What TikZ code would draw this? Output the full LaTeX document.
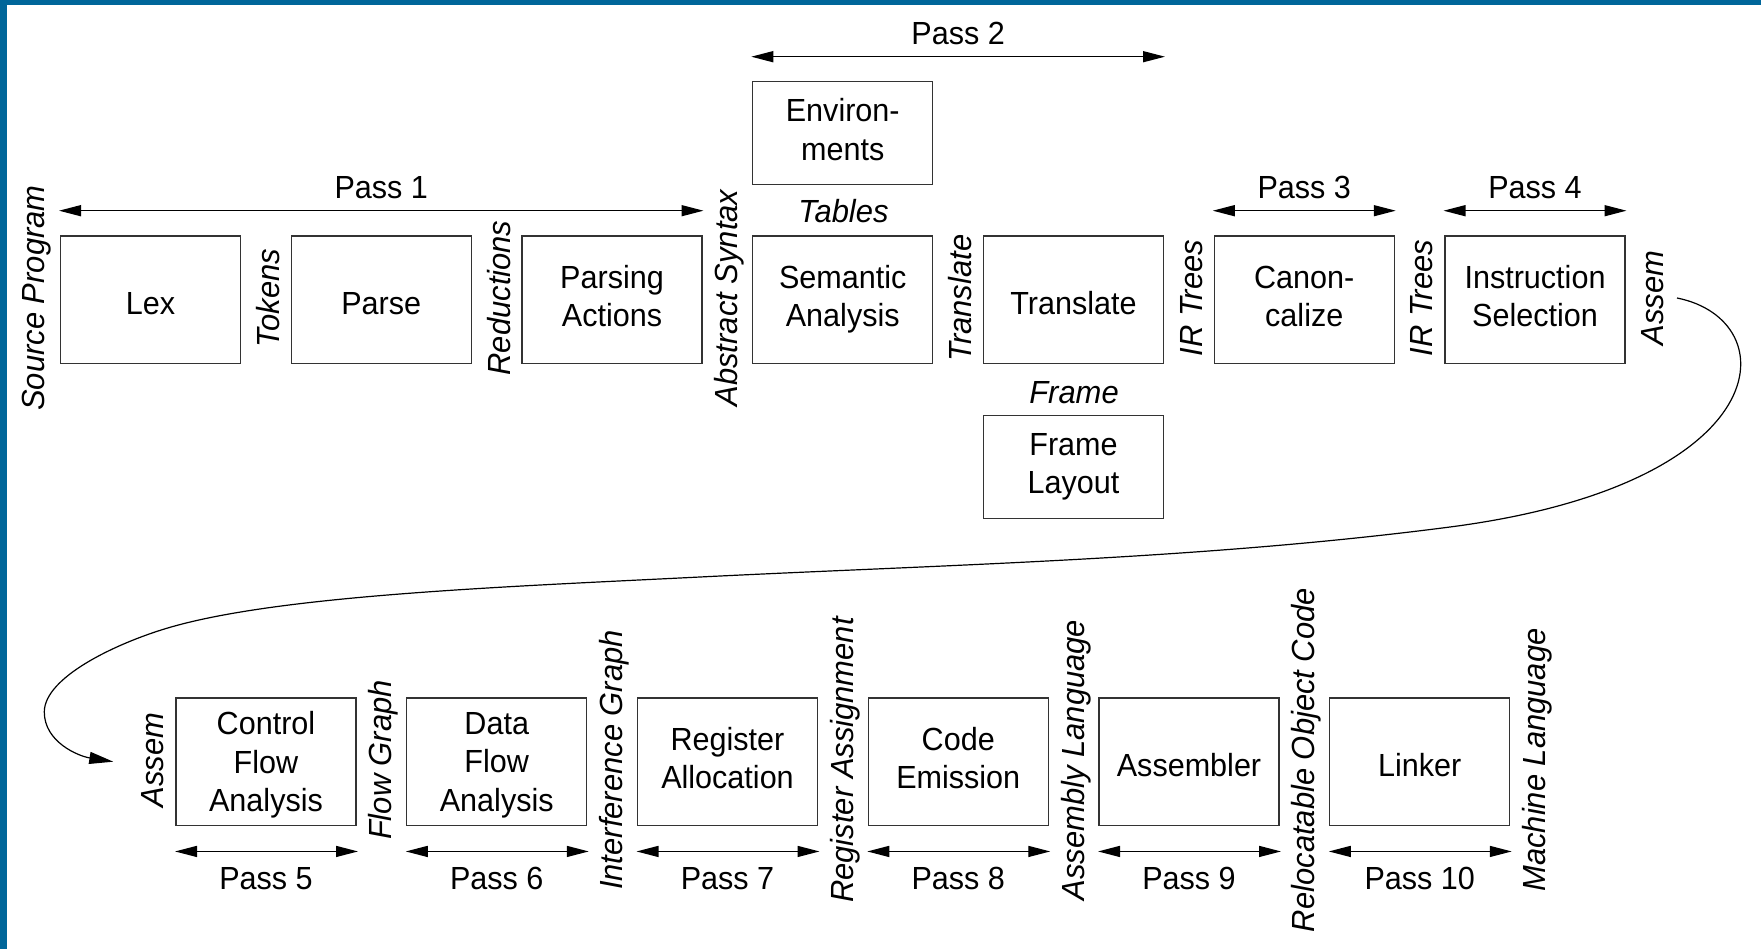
\documentclass[tikz,border=0pt]{standalone}
\usepackage{fontspec}
\setmainfont{Liberation Sans}[FakeStretch=0.955]
\newfontfamily\lblfont{Liberation Sans}[FakeStretch=0.967]
\usetikzlibrary{arrows.meta,calc}
\definecolor{frameblue}{HTML}{00669A}
\begin{document}
\begin{tikzpicture}[x=1pt,y=1pt,
  font=\fontsize{32}{38.3}\selectfont,
  box/.style={draw=black!80, line width=1.3pt, minimum width=180pt, minimum height=127.5pt, align=center, inner sep=0pt, outer sep=0pt},
  smallbox/.style={box, minimum height=102.5pt},
  oneline/.style={text height=29pt, text depth=0pt},
  twoline/.style={text depth=7pt},
  threeline/.style={text depth=-2pt},
  vlabel/.style={rotate=90, font=\fontsize{32}{38.3}\lblfont\itshape, inner sep=0pt},
  hlabel/.style={font=\fontsize{32}{38.3}\lblfont\itshape, inner sep=0pt, anchor=base},
  passarrow/.style={{Triangle[length=22pt,width=11pt]}-{Triangle[length=22pt,width=11pt]}, line width=1.4pt},
  passlabel/.style={anchor=base, inner sep=0pt},
  flowcurve/.style={-{Triangle[length=24pt,width=12pt]}, line width=1.2pt}]
\useasboundingbox (0,0) rectangle (1761,-949);
% frame bars
\fill[frameblue] (0,0) rectangle (1761,-5);
\fill[frameblue] (0,0) rectangle (6.5,-949);

% top row
\node[box,oneline] (lex)   at (150.5,-299.75)  {Lex};
\node[box,oneline] (parse) at (381.25,-299.75) {Parse};
\node[box,twoline] (pact)  at (612,-299.75)    {Parsing\\Actions};
\node[box,twoline] (sem)   at (842.75,-299.75) {Semantic\\Analysis};
\node[box,oneline] (trans) at (1073.5,-299.75) {Translate};
\node[box,twoline] (canon) at (1304.25,-299.75){Canon-\\calize};
\node[box,twoline] (isel)  at (1535,-299.75)   {Instruction\\Selection};
\node[smallbox,twoline] (env)   at (842.75,-132.95) {Environ-\\ments};
\node[smallbox,twoline] (frame) at (1073.5,-466.95) {Frame\\Layout};

% bottom row
\node[box,threeline] (cfa)  at (266,-761.7)     {Control\\Flow\\Analysis};
\node[box,threeline] (dfa)  at (496.75,-761.7)  {Data\\Flow\\Analysis};
\node[box,twoline]   (ra)   at (727.5,-761.7)   {Register\\Allocation};
\node[box,twoline]   (ce)   at (958.25,-761.7)  {Code\\Emission};
\node[box,oneline]   (asm)  at (1189,-761.7)    {Assembler};
\node[box,oneline]   (link) at (1419.75,-761.7) {Linker};

% top vertical labels
\node[vlabel] (lsrc)  at (37,-298)     {Source Program};
\node[vlabel] (ltok)  at (268.2,-298)  {Tokens};
\node[vlabel] (lred)  at (498.9,-298)  {Reductions};
\node[vlabel] (labs)  at (729.6,-298)  {Abstract Syntax};
\node[vlabel] (ltr)   at (960.4,-298)  {Translate};
\node[vlabel] (lir1)  at (1191.2,-298) {IR Trees};
\node[vlabel] (lir2)  at (1421.9,-298) {IR Trees};
\node[vlabel] (lasm1) at (1652.7,-298) {Assem};
\node[hlabel] (ltab)  at (843.5,-222.7) {Tables};
\node[hlabel] (lfr)   at (1074,-403.3)  {Frame};

% bottom vertical labels
\node[vlabel] (lasm2) at (152.9,-760)  {Assem};
\node[vlabel] (lfg)   at (383.6,-760)  {Flow Graph};
\node[vlabel] (lig)   at (614.4,-760)  {Interference Graph};
\node[vlabel] (lrasg) at (845.1,-760)  {Register Assignment};
\node[vlabel] (lal)   at (1075.9,-760) {Assembly Language};
\node[vlabel] (lroc)  at (1306.6,-760) {Relocatable Object Code};
\node[vlabel] (lml)   at (1537.4,-760) {Machine Language};

% pass arrows (top)
\draw[passarrow] ($(lex.north west)+(-1.5,25.3)$) -- ($(pact.north east)+(1.5,25.3)$);
\node[passlabel] at ($(lex.north west)!0.5!(pact.north east)+(0,37.7)$) {Pass 1};
\draw[passarrow] ($(env.north west)+(-1.5,25)$) -- ($(env.north west -| trans.east)+(1.5,25)$);
\node[passlabel] at ($(env.north west)!0.5!(env.north west -| trans.east)+(0,37.4)$) {Pass 2};
\draw[passarrow] ($(canon.north west)+(-1.5,25.3)$) -- ($(canon.north east)+(1.5,25.3)$);
\node[passlabel] at ($(canon.north)+(0,37.7)$) {Pass 3};
\draw[passarrow] ($(isel.north west)+(-1.5,25.3)$) -- ($(isel.north east)+(1.5,25.3)$);
\node[passlabel] at ($(isel.north)+(0,37.7)$) {Pass 4};

% pass arrows (bottom)
\foreach \b/\n in {cfa/5, dfa/6, ra/7, ce/8, asm/9, link/10}{
  \draw[passarrow] ($(\b.south west)+(-1,-26)$) -- ($(\b.south east)+(2,-26)$);
  \node[passlabel] at ($(\b.south)+(0,-64.3)$) {Pass \n};
}

% connecting curve
\coordinate (cs) at (1677,-298);
\coordinate (cend) at (113.3,-761.7);
\draw[flowcurve] (cs)
  .. controls (1787,-320) and (1780,-484) .. (1450,-527)
  .. controls (1200,-559.5) and (950,-564.5) .. (700,-577)
  .. controls (500,-587) and (276.7,-595.3) .. (166.7,-628.3)
  .. controls (116.7,-643.3) and (44.3,-677) .. (44.3,-712)
  .. controls (44.3,-742) and (78.3,-756.1) .. (cend);
\end{tikzpicture}
\end{document}
